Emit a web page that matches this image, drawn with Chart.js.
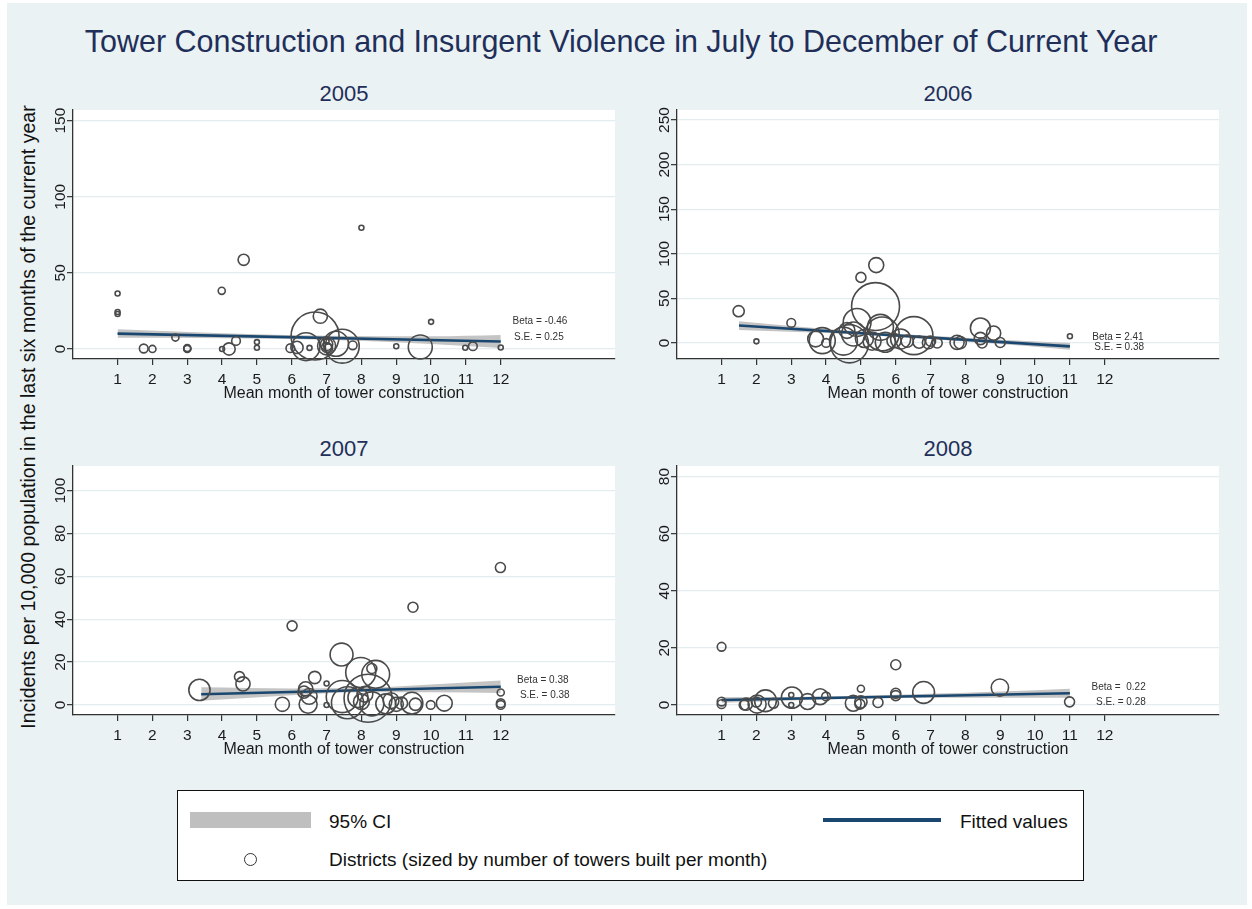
<!DOCTYPE html>
<html>
<head>
<meta charset="utf-8">
<script src="https://cdn.jsdelivr.net/npm/chart.js@4.4.1/dist/chart.umd.min.js"></script>
<style>
  body { margin: 0; background: #fff; }
  #page { position: relative; width: 1252px; height: 909px; overflow: hidden; background: #fff;
          font-family: "Liberation Sans", Arial, sans-serif; }
  #bg { position: absolute; left: 7px; top: 3px; width: 1240px; height: 902px; background: #EAF2F3; }
  .txt { position: absolute; white-space: nowrap; line-height: 1; color: #111; }
  .sub { font-size: 22px; color: #1F2F5A; transform: translateX(-50%); }
  canvas { position: absolute; }
</style>
</head>
<body>
<div id="page">
  <div id="bg"></div>

  <div class="txt" style="left:621px;top:26px;font-size:30.5px;color:#1F2F5A;transform:translateX(-50%)">Tower Construction and Insurgent Violence in July to December of Current Year</div>
  <div class="txt sub" style="left:344px;top:83px">2005</div>
  <div class="txt sub" style="left:948px;top:83px">2006</div>
  <div class="txt sub" style="left:344px;top:438px">2007</div>
  <div class="txt sub" style="left:948px;top:438px">2008</div>
  <div class="txt" style="left:29px;top:417px;font-size:19.5px;transform:translate(-50%,-50%) rotate(-90deg)">Incidents per 10,000 population in the last six months of the current year</div>

  <!-- legend -->
  <div style="position:absolute;left:177px;top:790px;width:905px;height:89px;border:1px solid #111;background:#fff"></div>
  <div style="position:absolute;left:190px;top:812px;width:121px;height:16px;background:#BFBFBF"></div>
  <div class="txt" style="left:329px;top:812px;font-size:19px">95% CI</div>
  <div style="position:absolute;left:823px;top:818px;width:118px;height:3.5px;background:#1A476F"></div>
  <div class="txt" style="left:960px;top:812px;font-size:19px">Fitted values</div>
  <div style="position:absolute;left:244px;top:853px;width:13px;height:13px;box-sizing:border-box;border:1.3px solid #333;border-radius:50%"></div>
  <div class="txt" style="left:329px;top:850px;font-size:19px">Districts (sized by number of towers built per month)</div>
</div>

<script>
// x ticks shared by all panels
const monthTicks = [1, 2, 3, 4, 5, 6, 7, 8, 9, 10, 11, 12];

// 2005
const x2005 = [1, 1, 1, 8, 4.62, 3.99, 10, 6.82, 6.67, 6.41, 7.27, 7.45, 7, 7, 7.05, 7.75, 9.69, 9, 10.98, 11.2, 12, 1.75, 2, 2.66, 3, 3, 3, 4, 4.2, 4.4, 5, 5, 5.96, 6.15, 6.51, 7, 7];
const y2005 = [36.4, 24.3, 23, 79.6, 58.6, 38.2, 17.8, 21.5, 8.5, 1.5, 3.4, 1.8, 3, 1, 0.5, 2.4, 1.3, 1.8, 0.8, 1.8, 1, 0.3, 0, 7.5, 0, 0.3, 0.6, 0, 0, 5.3, 4.5, 0.8, 0.5, 1, 0.7, 5, 2];
const towers2005 = [1, 1, 1, 1, 5, 2, 1, 8, 92, 31, 25, 46, 6, 4, 3, 3, 23, 1, 1, 3, 1, 3, 2, 2, 2, 2, 2, 1, 6, 3, 1, 1, 3, 6, 1, 1, 13];
const fitX2005 = [1, 12];
const fitY2005 = [10.1, 4.9];
const ciX2005 = [1, 4, 7, 10, 12];
const ciHi2005 = [12.9, 10.3, 8.6, 8.3, 9.2];
const ciLo2005 = [7.3, 7.1, 6.0, 3.3, 0.6];
const yTicks2005 = [0, 50, 100, 150];
const stats2005 = ['Beta = -0.46', 'S.E. = 0.25'];

// 2006
const x2006 = [1.49, 2, 3, 5, 5.44, 5.42, 4.89, 4.67, 3.89, 3.7, 4, 4.79, 4.6, 5.56, 5.61, 6.52, 6.14, 5.7, 5.32, 5.1, 5.95, 6.33, 6.67, 6.94, 7.19, 7.76, 7.85, 8.43, 8.43, 8.48, 8.81, 9, 11, 4.5, 7];
const y2006 = [35.6, 1.8, 22.5, 73.5, 87.3, 40.8, 23, -1, 2.6, 4.5, 0, 10, 14, 17.5, 10.1, 8.2, 4.5, 0.7, 2, 5, 2.5, 2, 1, 0.3, 0, 0.7, 0.3, 16.8, 5, 0, 11, 0.5, 7.5, 2, 2];
const towers2006 = [5, 1, 3, 4, 9, 92, 31, 58, 27, 10, 3, 23, 10, 27, 46, 58, 16, 16, 13, 13, 8, 6, 6, 6, 4, 8, 6, 16, 6, 4, 8, 4, 1, 31, 4];
const fitX2006 = [1.5, 11];
const fitY2006 = [19.5, -3.8];
const ciX2006 = [1.5, 4, 6, 8.5, 11];
const ciHi2006 = [24.4, 15.6, 10.2, 4.6, -0.1];
const ciLo2006 = [14.6, 11.2, 6.8, 0.2, -7.5];
const yTicks2006 = [0, 50, 100, 150, 200, 250];
const stats2006 = ['Beta = 2.41', 'S.E. = 0.38'];

// 2007
const x2007 = [11.99, 9.48, 6.01, 7.43, 7.98, 8.41, 8.3, 6.66, 7, 4.5, 4.6, 3.35, 6.4, 6.5, 5.73, 6.47, 7.45, 7.6, 8.19, 7.9, 8, 8.1, 8.3, 8.7, 8.85, 9, 9.15, 9.45, 9.55, 9.99, 10.38, 12, 12, 12, 7, 6.35];
const y2007 = [64.1, 45.6, 36.9, 23.5, 15.1, 14.3, 17, 12.8, 10, 13.2, 9.8, 7, 7.5, 4, 0.3, 0.3, 3.9, 1, 3.1, 3.5, 1.5, 5, 0.5, 0.5, 2, 0.3, 0.8, 0.8, 0.3, 0, 0.8, 5.8, 0.8, 0, 0, 6];
const towers2007 = [4, 4, 4, 21, 36, 31, 4, 6, 1, 4, 8, 18, 8, 10, 8, 13, 41, 41, 92, 16, 10, 10, 23, 16, 10, 8, 6, 19, 6, 3, 10, 2, 3, 3, 1, 6];
const fitX2007 = [3.4, 12];
const fitY2007 = [5.0, 8.5];
const ciX2007 = [3.4, 6, 8, 10, 12];
const ciHi2007 = [8.2, 7.7, 7.9, 9.5, 11.4];
const ciLo2007 = [1.9, 4.5, 5.9, 5.9, 5.6];
const yTicks2007 = [0, 20, 40, 60, 80, 100];
const stats2007 = ['Beta = 0.38', 'S.E. = 0.38'];

// 2008
const x2008 = [1, 1, 1, 6, 6, 6, 5, 5, 4.97, 4.78, 5.49, 6.8, 8.99, 10.99, 3.83, 4, 3.47, 3.02, 3, 3, 2.26, 2.02, 1.71, 1.65, 2.49, 2];
const y2008 = [20.4, 1.2, 0.3, 14.1, 4.1, 3.3, 5.7, 1.1, 0.3, 0.6, 0.9, 4.4, 6.1, 1.1, 2.9, 3, 1.2, 2.6, 0, 3.5, 1.5, 0.3, 0.3, 0, 0.6, 1];
const towers2008 = [3, 3, 3, 4, 4, 4, 2, 6, 4, 10, 4, 19, 12, 4, 10, 3, 10, 18, 1, 1, 19, 13, 6, 4, 4, 4];
const fitX2008 = [1, 11];
const fitY2008 = [1.75, 4.1];
const ciX2008 = [1, 3, 5, 7, 9, 11];
const ciHi2008 = [2.75, 2.8, 3.2, 3.9, 4.7, 5.7];
const ciLo2008 = [0.75, 1.6, 2.2, 2.5, 2.5, 2.5];
const yTicks2008 = [0, 20, 40, 60, 80];
const stats2008 = ['Beta =  0.22', 'S.E. = 0.28'];

// panel layout: plot box on the page, axis ranges, where the stats text sits (data units)
const panels = [
  { x: x2005, y: y2005, towers: towers2005, fitX: fitX2005, fitY: fitY2005, ciX: ciX2005, ciHi: ciHi2005, ciLo: ciLo2005,
    yTicks: yTicks2005, stats: stats2005, box: [73, 110, 615, 359], yMin: -6.6, yMax: 157, statAt: [[12.34, 18.2], [12.38, 7.9]] },
  { x: x2006, y: y2006, towers: towers2006, fitX: fitX2006, fitY: fitY2006, ciX: ciX2006, ciHi: ciHi2006, ciLo: ciLo2006,
    yTicks: yTicks2006, stats: stats2006, box: [677, 110, 1219, 359], yMin: -18, yMax: 261.2, statAt: [[11.64, 6.3], [11.7, -5.0]] },
  { x: x2007, y: y2007, towers: towers2007, fitX: fitX2007, fitY: fitY2007, ciX: ciX2007, ciHi: ciHi2007, ciLo: ciLo2007,
    yTicks: yTicks2007, stats: stats2007, box: [73, 466, 615, 715], yMin: -4.7, yMax: 111.5, statAt: [[12.47, 11.3], [12.55, 4.3]] },
  { x: x2008, y: y2008, towers: towers2008, fitX: fitX2008, fitY: fitY2008, ciX: ciX2008, ciHi: ciHi2008, ciLo: ciLo2008,
    yTicks: yTicks2008, stats: stats2008, box: [677, 466, 1219, 715], yMin: -3.5, yMax: 83.7, statAt: [[11.62, 6.2], [11.75, 0.8]] }
];

const AXIS_W = 40, AXIS_H = 50, PAD_TOP = 30, PAD_RIGHT = 10;
const FONT = '"Liberation Sans", Arial, sans-serif';

function pairs(xs, ys) {
  return xs.map((v, i) => ({ x: v, y: ys[i] }));
}

// white plot region + hand drawn tick labels (y labels are rotated like Stata)
function makeDeco(p) {
  return {
    id: 'deco',
    beforeDraw(chart) {
      const a = chart.chartArea, ctx = chart.ctx;
      ctx.save();
      ctx.fillStyle = '#fff';
      ctx.fillRect(a.left, a.top, a.right - a.left, a.bottom - a.top);
      ctx.restore();
    },
    afterDraw(chart) {
      const a = chart.chartArea, ctx = chart.ctx;
      const xs = chart.scales.x, ys = chart.scales.y;
      ctx.save();
      ctx.fillStyle = '#1a1a1a';
      ctx.font = '15.5px ' + FONT;
      ctx.textAlign = 'center';
      ctx.textBaseline = 'alphabetic';
      monthTicks.forEach(v => ctx.fillText(String(v), xs.getPixelForValue(v), a.bottom + 25));
      p.yTicks.forEach(v => {
        ctx.save();
        ctx.translate(a.left - 8.5, ys.getPixelForValue(v));
        ctx.rotate(-Math.PI / 2);
        ctx.fillText(String(v), 0, 0);
        ctx.restore();
      });
      ctx.font = '16px ' + FONT;
      ctx.fillText('Mean month of tower construction', (a.left + a.right) / 2, a.bottom + 38.5);
      // regression stats
      ctx.font = '10px ' + FONT;
      ctx.fillStyle = '#333';
      ctx.textAlign = 'left';
      ctx.textBaseline = 'middle';
      p.stats.forEach((s, i) => {
        ctx.fillText(s, xs.getPixelForValue(p.statAt[i][0]), ys.getPixelForValue(p.statAt[i][1]));
      });
      ctx.restore();
    }
  };
}

const page = document.getElementById('page');

panels.forEach(p => {
  const [l, t, r, b] = p.box;
  const canvas = document.createElement('canvas');
  canvas.width = (r - l) + AXIS_W + PAD_RIGHT;
  canvas.height = (b - t) + PAD_TOP + AXIS_H;
  canvas.style.left = (l - AXIS_W) + 'px';
  canvas.style.top = (t - PAD_TOP) + 'px';
  page.appendChild(canvas);

  new Chart(canvas.getContext('2d'), {
    type: 'scatter',
    data: {
      datasets: [
        {
          type: 'bubble',
          label: 'Districts',
          data: pairs(p.x, p.y),
          radius: ctx => 2.5 * Math.sqrt(p.towers[ctx.dataIndex]),
          backgroundColor: 'rgba(0,0,0,0)',
          borderColor: '#4a4a4a',
          borderWidth: 1.6,
          clip: false
        },
        {
          type: 'line',
          label: 'Fitted values',
          data: pairs(p.fitX, p.fitY),
          borderColor: '#1A476F',
          borderWidth: 2.6,
          pointRadius: 0,
          fill: false
        },
        {
          type: 'line',
          label: '95% CI',
          data: pairs(p.ciX, p.ciHi),
          borderWidth: 0,
          pointRadius: 0,
          backgroundColor: '#C4C4C4',
          cubicInterpolationMode: 'monotone',
          fill: '+1'
        },
        {
          type: 'line',
          label: '95% CI low',
          data: pairs(p.ciX, p.ciLo),
          borderWidth: 0,
          pointRadius: 0,
          cubicInterpolationMode: 'monotone',
          fill: false
        }
      ]
    },
    options: {
      responsive: false,
      animation: false,
      events: [],
      layout: { autoPadding: false, padding: { top: PAD_TOP, right: PAD_RIGHT, left: 0, bottom: 0 } },
      plugins: { legend: { display: false }, tooltip: { enabled: false }, title: { display: false } },
      scales: {
        x: {
          type: 'linear',
          min: -0.28,
          max: 15.28,
          afterBuildTicks: s => { s.ticks = monthTicks.map(v => ({ value: v })); },
          afterFit: s => { s.height = AXIS_H; },
          ticks: { display: false },
          grid: { drawOnChartArea: false, drawTicks: true, tickLength: 6, color: '#333', lineWidth: 1.2 },
          border: { display: true, color: '#333', width: 1.3 }
        },
        y: {
          type: 'linear',
          min: p.yMin,
          max: p.yMax,
          afterBuildTicks: s => { s.ticks = p.yTicks.map(v => ({ value: v })); },
          afterFit: s => { s.width = AXIS_W; },
          ticks: { display: false },
          grid: { color: '#E3ECEF', lineWidth: 1.3, drawTicks: true, tickLength: 6, tickColor: '#333', tickWidth: 1.2 },
          border: { display: true, color: '#333', width: 1.3 }
        }
      }
    },
    plugins: [makeDeco(p)]
  });
});
</script>
</body>
</html>
